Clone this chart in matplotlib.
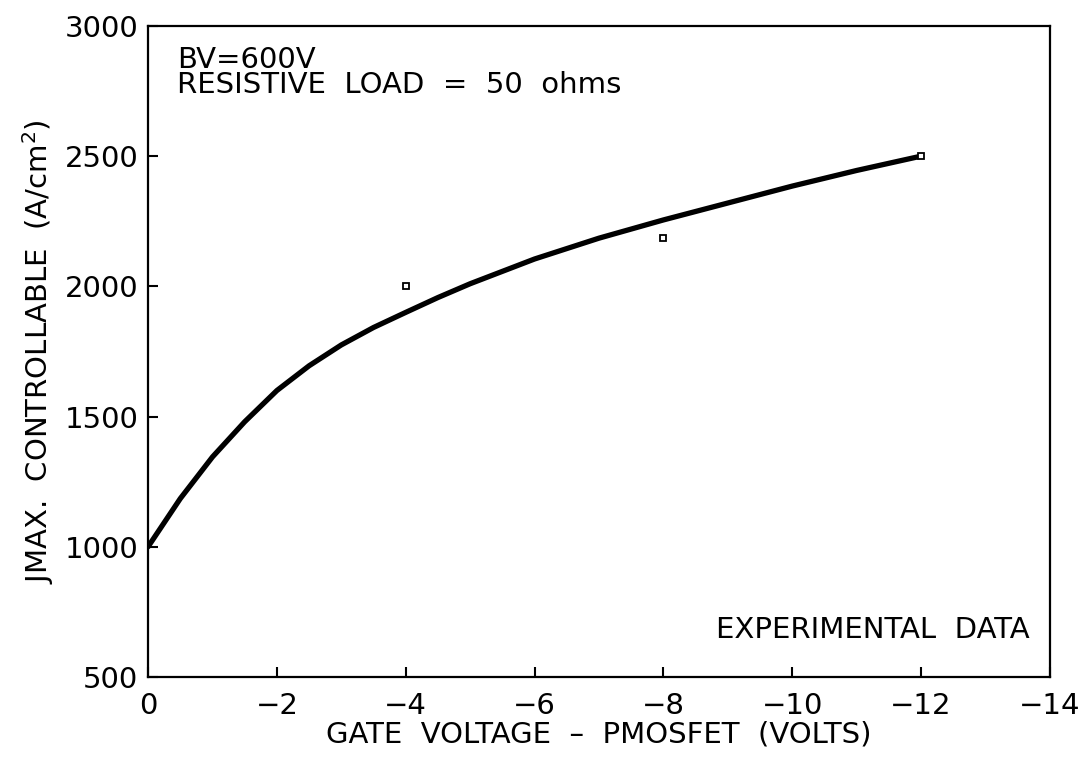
import numpy as np
import matplotlib
matplotlib.use("Agg")
import matplotlib.pyplot as plt

# -------------------------------
# Data
# -------------------------------
# Fitted curve: gate voltage (V) vs max controllable current density (A/cm2)
curve_v = [0, -0.5, -1, -1.5, -2, -2.5, -3, -3.5, -4, -4.5, -5, -6, -7, -8,
           -9, -10, -11, -12]
curve_j = [1000, 1185, 1345, 1480, 1600, 1695, 1775, 1842, 1900, 1957,
           2010, 2105, 2185, 2255, 2320, 2385, 2445, 2500]

# Experimental points
exp_v = [-4, -8, -12]
exp_j = [2000, 2185, 2500]

xticks = [0, -2, -4, -6, -8, -10, -12, -14]
yticks = [500, 1000, 1500, 2000, 2500, 3000]

# -------------------------------
# Figure
# -------------------------------
plt.rcParams['font.family'] = ['DejaVu Sans']
plt.rcParams['mathtext.fontset'] = 'dejavusans'

fig = plt.figure(figsize=(10.89, 7.64), dpi=100)
ax = fig.add_axes([0.136, 0.114, 0.828, 0.852])

ax.plot(curve_v, curve_j, color='black', lw=3.8, solid_capstyle='round',
        solid_joinstyle='round')
ax.plot(exp_v, exp_j, linestyle='none', marker='s', markersize=4.5,
        markerfacecolor='white', markeredgecolor='black', markeredgewidth=1.3)

ax.set_xlim(0, -14)
ax.set_ylim(500, 3000)
ax.set_xticks(xticks)
ax.set_yticks(yticks)

for s in ax.spines.values():
    s.set_linewidth(1.6)

ax.tick_params(axis='both', direction='in', length=7, width=1.5,
               labelsize=21, top=False, right=False)
ax.tick_params(axis='x', pad=11)
ax.tick_params(axis='y', pad=7)

ax.set_xlabel("GATE  VOLTAGE  \u2013  PMOSFET  (VOLTS)", fontsize=21, labelpad=0)
ax.set_ylabel(r"JMAX.  CONTROLLABLE  (A/cm$^2$)", fontsize=21, labelpad=6)

ax.text(0.032, 0.97, "BV=600V\nRESISTIVE  LOAD  =  50  ohms", transform=ax.transAxes,
        fontsize=21, va='top', ha='left', linespacing=0.9)
ax.text(0.978, 0.05, "EXPERIMENTAL  DATA", transform=ax.transAxes,
        fontsize=21, va='bottom', ha='right')

fig.savefig("out.png", dpi=100)
